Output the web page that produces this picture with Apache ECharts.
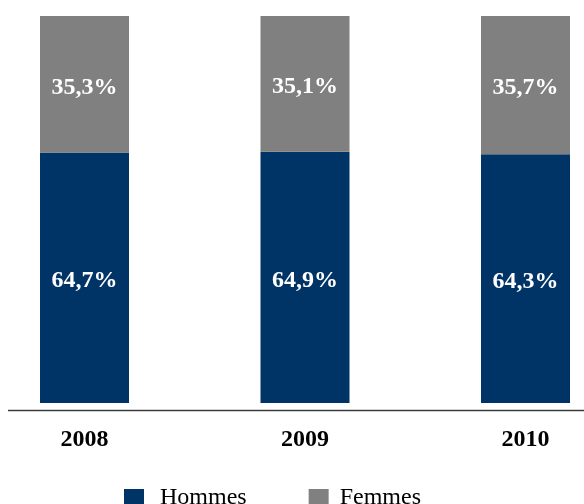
<!DOCTYPE html>
<html>
<head>
<meta charset="utf-8">
<script src="https://cdn.jsdelivr.net/npm/echarts@6/dist/echarts.min.js"></script>
<style>
  html, body { margin: 0; padding: 0; background: #ffffff; }
  #chart { width: 584px; height: 504px; }
</style>
</head>
<body>
<div id="chart"></div>
<script>
// Répartition hommes / femmes par année (en %)
const years = ['2008', '2009', '2010'];
const hommes = [64.7, 64.9, 64.3];
const femmes = [35.3, 35.1, 35.7];
const seriesNames = ['Hommes', 'Femmes'];

const NAVY = '#003366';
const GREY = '#808080';
const SERIF = '"Liberation Serif", "Times New Roman", serif';

const fmt = v => v.toFixed(1).replace('.', ',') + '%';

const chart = echarts.init(document.getElementById('chart'), null, { renderer: 'canvas' });

const barLabel = {
  show: true,
  position: 'inside',
  offset: [0, 3],
  color: '#ffffff',
  fontFamily: SERIF,
  fontWeight: 'bold',
  fontSize: 24,
  formatter: p => fmt(p.value)
};

chart.setOption({
  animation: false,
  backgroundColor: '#ffffff',
  grid: {
    left: -25.75,
    width: 661.5,
    top: 16,
    bottom: 101,
    containLabel: false,
    outerBoundsMode: 'none'
  },
  xAxis: {
    type: 'category',
    data: years,
    axisLine: { show: false },
    axisTick: { show: false },
    axisLabel: {
      margin: 25,
      color: '#000000',
      fontFamily: SERIF,
      fontWeight: 'bold',
      fontSize: 24
    }
  },
  yAxis: {
    type: 'value',
    min: 0,
    max: 100,
    show: false,
    splitLine: { show: false }
  },
  legend: {
    left: 124,
    top: 486,
    padding: 0,
    itemWidth: 20,
    itemHeight: 18,
    itemGap: 62,
    icon: 'rect',
    textStyle: {
      color: '#000000',
      fontFamily: SERIF,
      fontSize: 24,
      lineHeight: 18
    },
    data: [
      { name: seriesNames[0], textStyle: { padding: [0, 0, 0, 11] } },
      { name: seriesNames[1], textStyle: { padding: [0, 0, 0, 6] } }
    ]
  },
  series: [
    {
      name: seriesNames[0],
      type: 'bar',
      stack: 'total',
      barWidth: 89,
      data: hommes,
      itemStyle: { color: NAVY },
      label: barLabel
    },
    {
      name: seriesNames[1],
      type: 'bar',
      stack: 'total',
      barWidth: 89,
      data: femmes,
      itemStyle: { color: GREY },
      label: barLabel
    }
  ],
  graphic: [
    {
      type: 'line',
      shape: { x1: 8, y1: 410.5, x2: 584, y2: 410.5 },
      style: { stroke: '#3c3c3c', lineWidth: 1.3 },
      silent: true
    }
  ]
});
</script>
</body>
</html>
